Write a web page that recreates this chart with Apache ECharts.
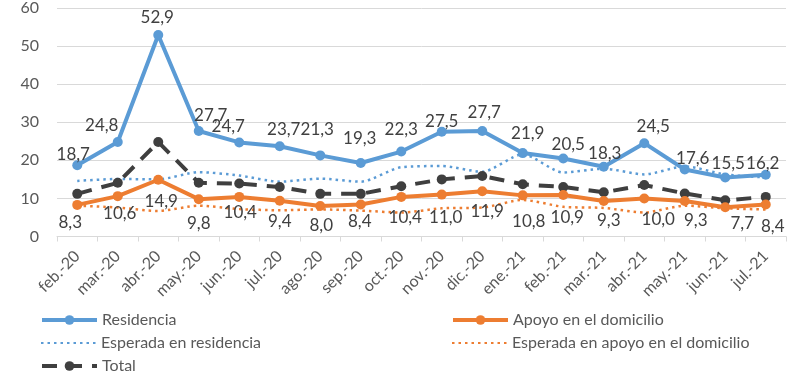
<!DOCTYPE html>
<html>
<head>
<meta charset="utf-8">
<script src="https://cdn.jsdelivr.net/npm/echarts@6/dist/echarts.min.js"></script>
<style>
  html, body { margin: 0; padding: 0; background: #ffffff; }
  #chart { width: 789px; height: 372px; }
</style>
</head>
<body>
<div id="chart"></div>
<script>
// Months shown on the category axis
const months = ['feb.-20', 'mar.-20', 'abr.-20', 'may.-20', 'jun.-20', 'jul.-20', 'ago.-20', 'sep.-20',
  'oct.-20', 'nov.-20', 'dic.-20', 'ene.-21', 'feb.-21', 'mar.-21', 'abr.-21', 'may.-21', 'jun.-21', 'jul.-21'];

// Observed series
const residencia = [18.7, 24.8, 52.9, 27.7, 24.7, 23.7, 21.3, 19.3, 22.3, 27.5, 27.7, 21.9, 20.5, 18.3, 24.5, 17.6, 15.5, 16.2];
const apoyoDomicilio = [8.3, 10.6, 14.9, 9.8, 10.4, 9.4, 8.0, 8.4, 10.4, 11.0, 11.9, 10.8, 10.9, 9.3, 10.0, 9.3, 7.7, 8.4];
const total = [11.2, 14.1, 24.8, 14.1, 13.9, 13.0, 11.2, 11.2, 13.2, 15.0, 15.9, 13.7, 13.0, 11.6, 13.5, 11.3, 9.5, 10.4];

// Expected series
const esperadaResidencia = [14.6, 15.1, 15.0, 16.9, 16.0, 14.4, 15.2, 14.4, 18.2, 18.5, 17.0, 21.6, 16.8, 17.8, 16.3, 18.4, 16.3, 15.5];
const esperadaApoyo = [8.1, 7.6, 6.7, 8.1, 7.2, 6.9, 7.1, 6.8, 6.3, 7.4, 7.6, 9.6, 7.8, 7.5, 6.3, 8.1, 7.4, 7.1];

// Y axis scale
const yMin = 0, yMax = 60, yStep = 10;

// Label placement (pixel nudges relative to each marker)
const resLabelShift = [[-4, -11], [-16, -17], [-1, -18], [12, -15], [-11, -16], [4, -17], [-3, -26], [-1, -24], [0, -22],
  [0, -10], [2, -18], [5, -20], [5, -14], [1, -13], [9, -17], [8, -11], [3, -14], [-3, -11]];
const apoLabelShift = [[-7, 18], [2, 17], [3, 22], [0, 24], [1, 16], [0, 21], [1, 19], [-1, 17], [4, 21],
  [4, 23], [5, 20], [6, 26], [4, 23], [5, 19], [14, 21], [11, 19], [17, 16], [7, 22]];

const FONT = 'Lato';
const fmt = v => v.toFixed(1).replace('.', ',');

const BLUE = '#5B9BD5';
const ORANGE = '#ED7D31';
const DARK = '#404040';
const TOTAL_C = '#3F3F3F';

function labelled(values, shifts) {
  return values.map((v, i) => ({ value: v, label: { offset: shifts[i] } }));
}

// One legend block per entry, laid out in two columns below the axis
const hiddenMarker = { color: 'rgba(0,0,0,0)', borderColor: 'rgba(0,0,0,0)', borderWidth: 0 };
function legendEntry(item, left, top) {
  return {
    left: left, top: top, padding: 0, itemWidth: 55, itemHeight: 12, itemGap: 0,
    selectedMode: false,
    textStyle: { color: '#595959', fontSize: 16, fontFamily: FONT },
    data: [item]
  };
}

const chart = echarts.init(document.getElementById('chart'), null, { renderer: 'canvas' });

chart.setOption({
  animation: false,
  backgroundColor: '#ffffff',
  textStyle: { fontFamily: FONT },
  grid: { left: 57, right: 3, top: 2.5, bottom: 135.5, containLabel: false },
  xAxis: {
    type: 'category',
    data: months,
    boundaryGap: true,
    axisLine: { lineStyle: { color: '#D9D9D9', width: 1 } },
    axisTick: { show: true, length: 5, lineStyle: { color: '#D9D9D9' } },
    axisLabel: { interval: 0, rotate: 45, margin: 17, color: '#595959', fontSize: 16, fontFamily: FONT }
  },
  yAxis: {
    type: 'value',
    min: yMin, max: yMax, interval: yStep,
    axisLine: { show: false },
    axisTick: { show: false },
    axisLabel: { color: '#595959', fontSize: 16, margin: 18, fontFamily: FONT },
    splitLine: { lineStyle: { color: '#D9D9D9', width: 1 } }
  },
  legend: [
    legendEntry({ name: 'Residencia', lineStyle: { width: 4 } }, 40, 312),
    legendEntry({ name: 'Esperada en residencia', itemStyle: hiddenMarker }, 40, 335),
    legendEntry({ name: 'Total', lineStyle: { width: 4, type: [15, 10] } }, 40, 358),
    legendEntry({ name: 'Apoyo en el domicilio', lineStyle: { width: 4 } }, 451, 312),
    legendEntry({ name: 'Esperada en apoyo en el domicilio', itemStyle: hiddenMarker }, 451, 335)
  ],
  series: [
    {
      name: 'Esperada en residencia', type: 'line', data: esperadaResidencia, smooth: 0.25,
      symbol: 'none', z: 2,
      lineStyle: { color: BLUE, width: 2.5, type: [2.5, 4] },
      itemStyle: { color: BLUE }
    },
    {
      name: 'Esperada en apoyo en el domicilio', type: 'line', data: esperadaApoyo, smooth: 0.25,
      symbol: 'none', z: 2,
      lineStyle: { color: ORANGE, width: 2.5, type: [2.5, 4] },
      itemStyle: { color: ORANGE }
    },
    {
      name: 'Total', type: 'line', data: total,
      symbol: 'circle', symbolSize: 10, z: 3,
      lineStyle: { color: TOTAL_C, width: 4, type: [15, 10] },
      itemStyle: { color: TOTAL_C }
    },
    {
      name: 'Apoyo en el domicilio', type: 'line', data: labelled(apoyoDomicilio, apoLabelShift),
      symbol: 'circle', symbolSize: 10, z: 4,
      lineStyle: { color: ORANGE, width: 4 },
      itemStyle: { color: ORANGE },
      label: {
        show: true, position: 'inside', color: DARK, fontSize: 17, fontFamily: FONT,
        formatter: p => fmt(p.value)
      }
    },
    {
      name: 'Residencia', type: 'line', data: labelled(residencia, resLabelShift),
      symbol: 'circle', symbolSize: 10, z: 5,
      lineStyle: { color: BLUE, width: 4 },
      itemStyle: { color: BLUE },
      label: {
        show: true, position: 'inside', color: DARK, fontSize: 17, fontFamily: FONT,
        formatter: p => fmt(p.value)
      }
    }
  ]
});
</script>
</body>
</html>
